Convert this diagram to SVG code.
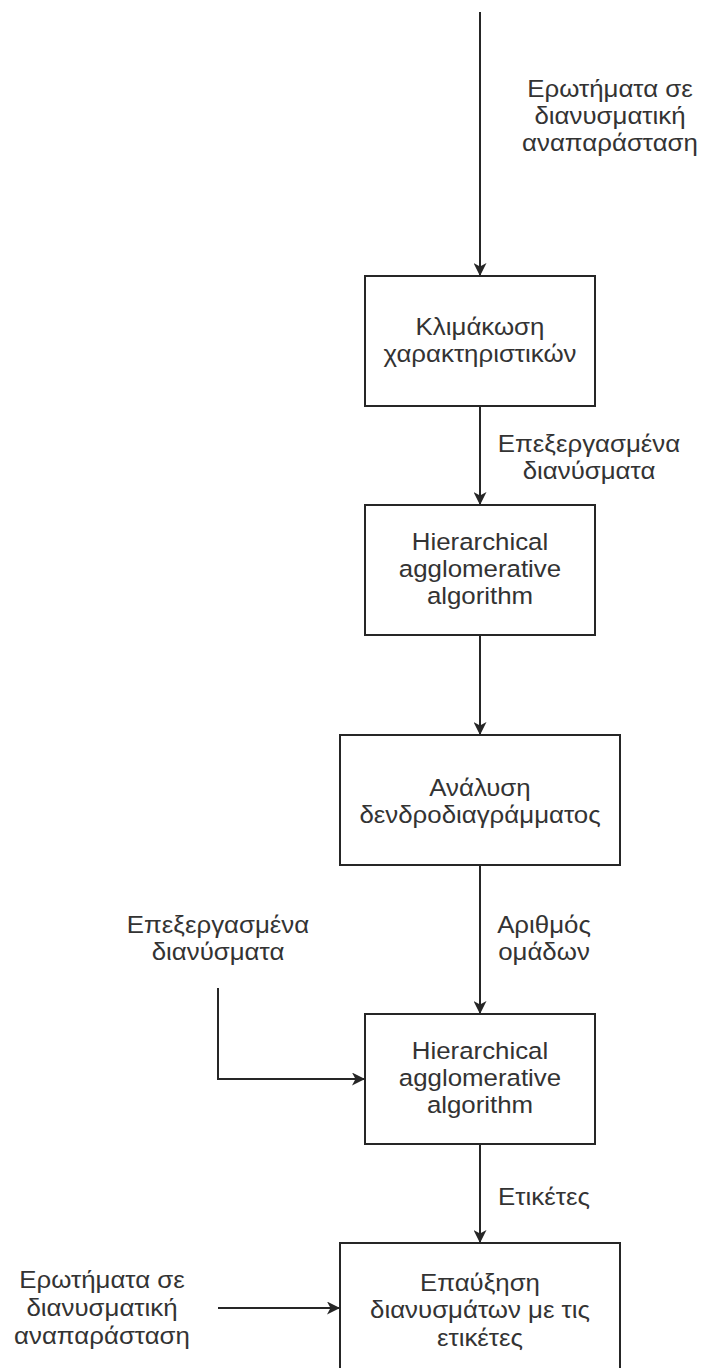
<svg xmlns="http://www.w3.org/2000/svg" width="702" height="1368" viewBox="0 0 702 1368">
  <style>
    .box { fill: #ffffff; stroke: #262626; stroke-width: 2; }
    .edge { fill: none; stroke: #262626; stroke-width: 2; }
    text { font-family: "Liberation Sans", Arial, sans-serif; font-size: 23.5px; fill: #333333; text-anchor: middle; }
  </style>
  <defs>
    <marker id="arrow" viewBox="0 0 13 13" refX="13" refY="6.5" markerWidth="13" markerHeight="13" markerUnits="userSpaceOnUse" orient="auto">
      <path d="M0,0 L13,6.5 L0,13 L3.5,6.5 Z" fill="#262626"/>
    </marker>
  </defs>
  <rect width="702" height="1368" fill="#ffffff"/>

  <!-- connectors -->
  <g id="connectors">
    <path class="edge" d="M480,12 V276" marker-end="url(#arrow)"/>
    <path class="edge" d="M480,406 V505" marker-end="url(#arrow)"/>
    <path class="edge" d="M480,635 V735" marker-end="url(#arrow)"/>
    <path class="edge" d="M480,865 V1014" marker-end="url(#arrow)"/>
    <path class="edge" d="M218,988 V1079 H365" marker-end="url(#arrow)"/>
    <path class="edge" d="M480,1144 V1243" marker-end="url(#arrow)"/>
    <path class="edge" d="M218,1308 H340" marker-end="url(#arrow)"/>
  </g>

  <!-- edge labels (text slightly widened horizontally) -->
  <g id="labels">
    <text transform="translate(610 97) scale(1.1 1)">Ερωτήματα σε</text>
    <text transform="translate(610 124) scale(1.1 1)">διανυσματική</text>
    <text transform="translate(610 151) scale(1.1 1)">αναπαράσταση</text>

    <text transform="translate(589 452) scale(1.1 1)">Επεξεργασμένα</text>
    <text transform="translate(589 479) scale(1.1 1)">διανύσματα</text>

    <text transform="translate(544 933) scale(1.1 1)">Αριθμός</text>
    <text transform="translate(544 960) scale(1.1 1)">ομάδων</text>

    <text transform="translate(218 933) scale(1.1 1)">Επεξεργασμένα</text>
    <text transform="translate(218 960) scale(1.1 1)">διανύσματα</text>

    <text transform="translate(544 1205) scale(1.1 1)">Ετικέτες</text>

    <text transform="translate(102 1288) scale(1.1 1)">Ερωτήματα σε</text>
    <text transform="translate(102 1316) scale(1.1 1)">διανυσματική</text>
    <text transform="translate(102 1344) scale(1.1 1)">αναπαράσταση</text>
  </g>

  <!-- process steps -->
  <g id="scaling">
    <rect class="box" x="365" y="276" width="230" height="130"/>
    <text transform="translate(480 335) scale(1.1 1)">Κλιμάκωση</text>
    <text transform="translate(480 362) scale(1.1 1)">χαρακτηριστικών</text>
  </g>
  <g id="hac1">
    <rect class="box" x="365" y="505" width="230" height="130"/>
    <text transform="translate(480 550) scale(1.1 1)">Hierarchical</text>
    <text transform="translate(480 577) scale(1.1 1)">agglomerative</text>
    <text transform="translate(480 604) scale(1.1 1)">algorithm</text>
  </g>
  <g id="dendrogram">
    <rect class="box" x="340" y="735" width="280" height="130"/>
    <text transform="translate(480 796) scale(1.1 1)">Ανάλυση</text>
    <text transform="translate(480 823) scale(1.1 1)">δενδροδιαγράμματος</text>
  </g>
  <g id="hac2">
    <rect class="box" x="365" y="1014" width="230" height="130"/>
    <text transform="translate(480 1059) scale(1.1 1)">Hierarchical</text>
    <text transform="translate(480 1086) scale(1.1 1)">agglomerative</text>
    <text transform="translate(480 1113) scale(1.1 1)">algorithm</text>
  </g>
  <g id="augment">
    <rect class="box" x="340" y="1243" width="280" height="140"/>
    <text transform="translate(480 1291) scale(1.1 1)">Επαύξηση</text>
    <text transform="translate(480 1318) scale(1.1 1)">διανυσμάτων με τις</text>
    <text transform="translate(480 1346) scale(1.1 1)">ετικέτες</text>
  </g>
</svg>
